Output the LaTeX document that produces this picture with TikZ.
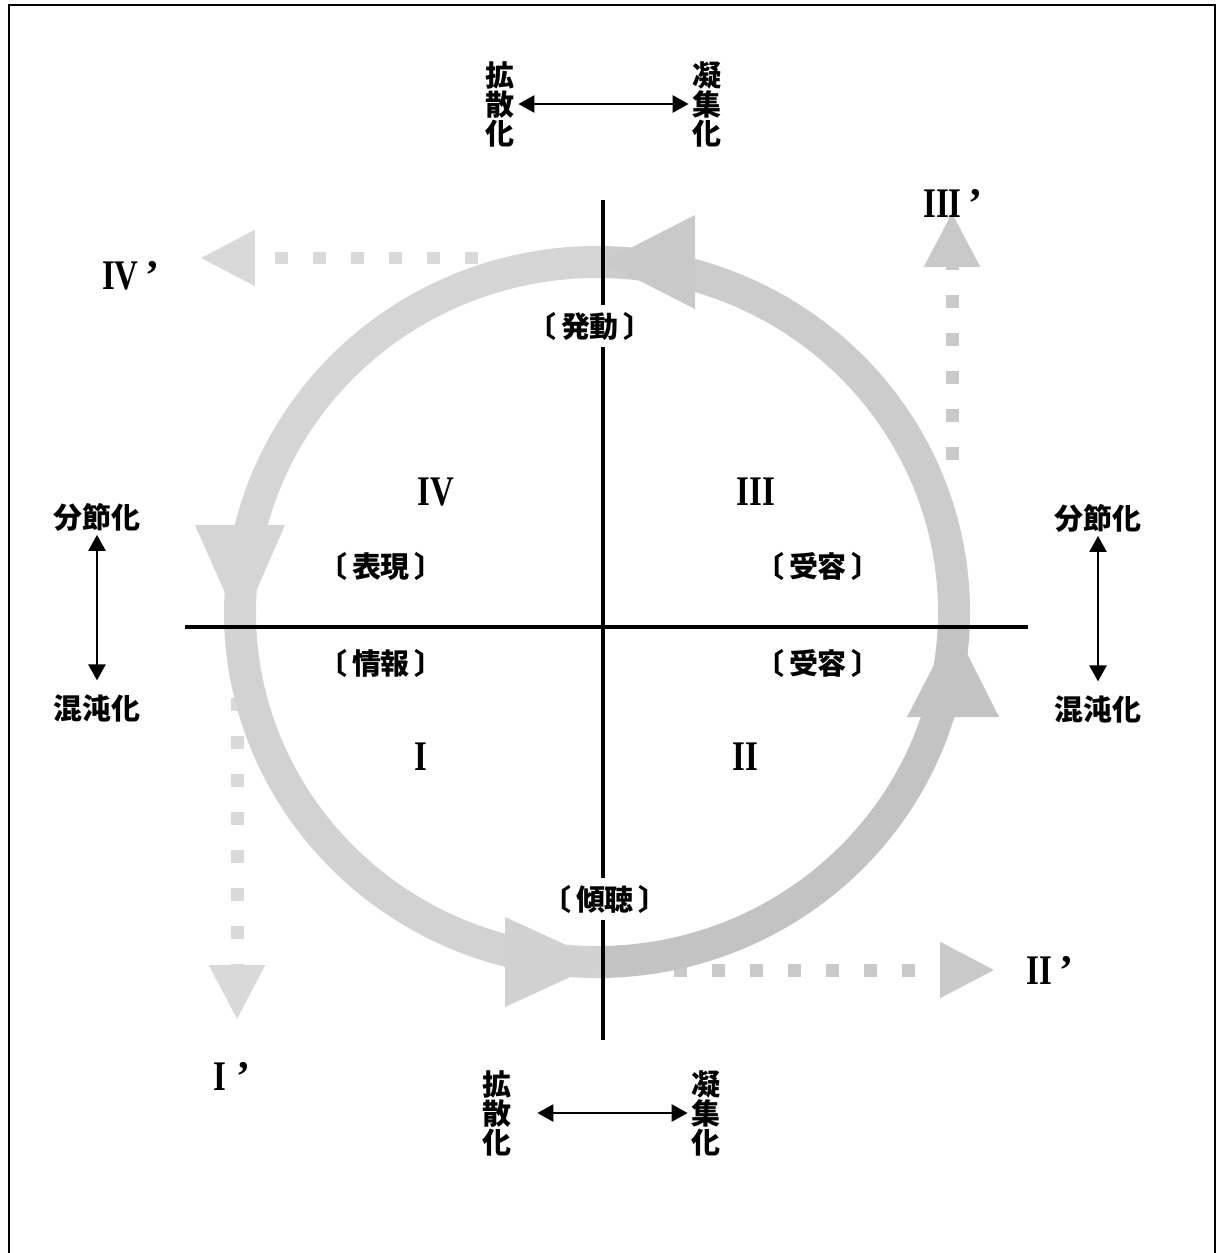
\documentclass[tikz,border=0pt]{standalone}
\usepackage{graphicx}
\usepackage{fontspec}
\setmainfont{Liberation Serif}
\newfontfamily\jpfont{Noto Sans CJK JP}
\usepackage{tikz}
\usetikzlibrary{arrows.meta,positioning,calc}
\newcommand\rnum[1]{\scalebox{0.78}[1]{#1}}
\newcommand\tagtext[1]{〔\hspace{2.5pt}#1\hspace{2.5pt}〕}
\tikzset{
  jplabel/.style={
    font=\jpfont\bfseries\fontsize{16.5}{16.5}\selectfont,
    inner sep=2pt, align=center
  },
  tagbox/.style={jplabel, fill=white, inner sep=4pt},
  romlabel/.style={font=\bfseries\fontsize{24}{24}\selectfont, inner sep=1pt},
  axisline/.style={line width=2pt, draw=black},
  frameline/.style={line width=1.6pt, draw=black},
  dblarrow/.style={{Triangle[length=0.32cm,width=0.34cm]}-{Triangle[length=0.32cm,width=0.34cm]},
    line width=1.4pt},
  ringband/.style={line width=0.64cm, draw=#1},
  dotarrow/.style={draw=#1, line width=0.26cm, dash pattern=on 0.26cm off 0.5cm,
    -{Triangle[length=1.1cm,width=1.05cm]}},
}

\begin{document}
\begin{tikzpicture}[x=0.02cm, y=-0.02cm]
  \useasboundingbox (0,0) rectangle (1219,1253);
  \draw[frameline] (9,1253) -- (9,5) -- (1215,5) -- (1215,1253);

  \coordinate (ptop)   at (603,262.05);
  \coordinate (pleft)  at (240.3,627.3);
  \coordinate (pbot)   at (603,961.95);
  \coordinate (pright) at (953.7,627);

  \coordinate (d4s) at (603,258);  \coordinate (d4e) at (200,258);
  \coordinate (d3s) at (952,627);  \coordinate (d3e) at (952,212);
  \coordinate (d1s) at (237,627);  \coordinate (d1e) at (237,1020);
  \coordinate (d2s) at (603,970);  \coordinate (d2e) at (995,970);
  \draw[dotarrow=gray!30, shorten <=2.5cm]  (d4s) -- (d4e);
  \draw[dotarrow=gray!42, shorten <=3.34cm] (d3s) -- (d3e);
  \draw[dotarrow=gray!30, shorten <=1.42cm] (d1s) -- (d1e);
  \draw[dotarrow=gray!42, shorten <=1.42cm] (d2s) -- (d2e);

  \draw[ringband=gray!33] (ptop)   arc[start angle=270.96, end angle=177.5,  x radius=357, y radius=350];
  \draw[ringband=gray!35] (pleft)  arc[start angle=177.5,  end angle=89.04,  x radius=357, y radius=350];
  \draw[ringband=gray!47] (pbot)   arc[start angle=89.04,  end angle=2.46,   x radius=357, y radius=350];
  \draw[ringband=gray!40] (pright) arc[start angle=2.46,   end angle=-89.04, x radius=357, y radius=350];
  \fill[gray!42] (ptop)   -- (695,215) -- (695,309) -- cycle;
  \fill[gray!33] (pleft)  -- (195,525) -- (285,525) -- cycle;
  \fill[gray!36] (pbot)   -- (505,917) -- (505,1007) -- cycle;
  \fill[gray!47] (pright) -- (907,717) -- (999,717) -- cycle;

  \coordinate (vtop) at (603,200);  \coordinate (vbot) at (603,1040);
  \coordinate (hlft) at (185,627);  \coordinate (hrgt) at (1028,627);
  \draw[axisline] (vtop) -- (vbot);
  \draw[axisline] (hlft) -- (hrgt);

  \node (hatsudo) [tagbox] at (590,326) {\tagtext{発動}};
  \node (hyogen)  [tagbox] at (381,566) {\tagtext{表現}};
  \node (joho)    [tagbox] at (381,663) {\tagtext{情報}};
  \node (juyouA)  [tagbox] at (818,566) {\tagtext{受容}};
  \node (juyouB)  [tagbox] at (818,663) {\tagtext{受容}};
  \node (keicho)  [tagbox] at (605,899) {\tagtext{傾聴}};

  \node (q4) [romlabel] at (436,492) {\rnum{IV}};
  \node (q3) [romlabel] at (756,492) {\rnum{III}};
  \node (q1) [romlabel] at (421,757) {\rnum{I}};
  \node (q2) [romlabel] at (745,757) {\rnum{II}};
  \node (q4p) [romlabel] at (131,276)  {\rnum{IV}\hspace{4pt}’};
  \node (q3p) [romlabel] at (953,203)  {\rnum{III}\hspace{4pt}’};
  \node (q1p) [romlabel] at (232,1076) {\rnum{I}\hspace{6pt}’};
  \node (q2p) [romlabel] at (1050,970) {\rnum{II}\hspace{4pt}’};

  \node (bunL) [jplabel] at (97,517)   {分節化};
  \node (konL) [jplabel] at (97,708)   {混沌化};
  \node (bunR) [jplabel] at (1098,518) {分節化};
  \node (konR) [jplabel] at (1098,709) {混沌化};
  \draw[dblarrow, shorten >=0.2cm] (bunL) -- (konL);
  \draw[dblarrow, shorten >=0.2cm] (bunR) -- (konR);

  \node (kakuT) [jplabel] at (500,104)  {拡\\散\\化};
  \node (gyoT)  [jplabel] at (707,104)  {凝\\集\\化};
  \node (kakuB) [jplabel] at (497,1113) {拡\\散\\化};
  \node (gyoB)  [jplabel] at (706,1113) {凝\\集\\化};
  \draw[dblarrow] (kakuT) -- (gyoT);
  \draw[dblarrow, shorten <=0.44cm] (kakuB) -- (gyoB);
\end{tikzpicture}
\end{document}
